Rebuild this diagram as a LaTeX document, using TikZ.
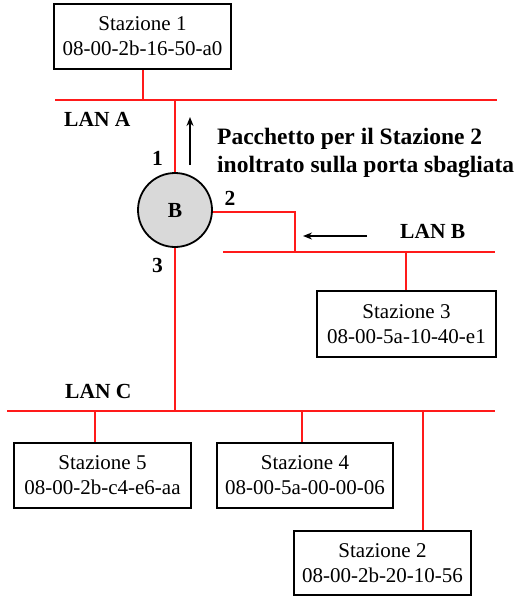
\documentclass[tikz,border=0pt]{standalone}
\usepackage{fontspec}
\setmainfont{Liberation Serif}
\usetikzlibrary{arrows.meta}
\definecolor{lanred}{HTML}{FF1A1A}
\definecolor{bridgegray}{HTML}{D9D9D9}
\begin{document}
\begin{tikzpicture}[x=1pt,y=-1pt,
  station/.style={draw=black,line width=2.6pt,fill=white,align=center,
    font=\fontsize{21}{25}\selectfont,inner sep=0pt},
  bus/.style={draw=lanred,line width=2.6pt},
  drop/.style={draw=lanred,line width=1.8pt},
  lbl/.style={font=\fontsize{21.5}{26}\selectfont\bfseries,inner sep=0pt},
  flow/.style={draw=black,line width=2pt,-{Stealth[length=9pt,width=7pt]}}]
\useasboundingbox (0,0) rectangle (520,597);

% stations
\node[station,minimum width=177pt,minimum height=65pt] (s1) at (142.5,36.5) {Stazione 1\\08-00-2b-16-50-a0};
\node[station,minimum width=179pt,minimum height=66pt] (s3) at (406.5,324) {Stazione 3\\08-00-5a-10-40-e1};
\node[station,minimum width=177pt,minimum height=65pt] (s5) at (102.5,475.5) {Stazione 5\\08-00-2b-c4-e6-aa};
\node[station,minimum width=176pt,minimum height=65pt] (s4) at (305,475.5) {Stazione 4\\08-00-5a-00-00-06};
\node[station,minimum width=177pt,minimum height=64pt] (s2) at (382.5,563) {Stazione 2\\08-00-2b-20-10-56};

% bridge
\node[circle,draw=black,line width=1.8pt,fill=bridgegray,minimum size=74pt,inner sep=0pt,
  font=\fontsize{21.5}{26}\selectfont\bfseries] (B) at (175,210) {B};

% LAN segments
\coordinate (aL) at (55,100);  \coordinate (aR) at (497,100);
\coordinate (bL) at (223,252); \coordinate (bR) at (495,252);
\coordinate (cL) at (7,411);   \coordinate (cR) at (495,411);
\draw[bus] (aL) -- (aR);
\draw[bus] (bL) -- (bR);
\draw[bus] (cL) -- (cR);

% taps on the LANs
\coordinate (t1) at (143,100);
\coordinate (tB1) at (175,100);
\coordinate (tB2) at (295,252);
\coordinate (tB3) at (175,411);
\coordinate (t3) at (406,252);
\coordinate (t5) at (95,411);
\coordinate (t4) at (302,411);
\coordinate (t2) at (423,411);

\draw[drop] (t1) -- (t1 |- s1.south);
\draw[drop] (tB1) -- (B.north);
\draw[drop] (B.-3) -- (B.-3 -| tB2) -- (tB2);
\draw[drop] (B.south) -- (tB3);
\draw[drop] (t3) -- (t3 |- s3.north);
\draw[drop] (t5) -- (t5 |- s5.north);
\draw[drop] (t4) -- (t4 |- s4.north);
\draw[drop] (t2) -- (t2 |- s2.north);

% labels
\node[lbl,anchor=base west] (la) at (64,126) {LAN A};
\node[lbl,anchor=base west] (lb) at (400,238) {LAN B};
\node[lbl,anchor=base west] (lc) at (65,398) {LAN C};
\node[lbl,anchor=base] (p1) at (157.5,165) {1};
\node[lbl,anchor=base] (p2) at (230,205) {2};
\node[lbl,anchor=base] (p3) at (157.5,272) {3};
\node[lbl,anchor=north west,align=left,font=\fontsize{23.5}{28}\selectfont\bfseries] (msg) at (217,128)
  {Pacchetto per il Stazione 2\\inoltrato sulla porta sbagliata};

% packet direction
\coordinate (upA) at (190,165); \coordinate (upB) at (190,117);
\coordinate (lfA) at (367,236); \coordinate (lfB) at (303,236);
\draw[flow] (upA) -- (upB);
\draw[flow] (lfA) -- (lfB);
\end{tikzpicture}
\end{document}
